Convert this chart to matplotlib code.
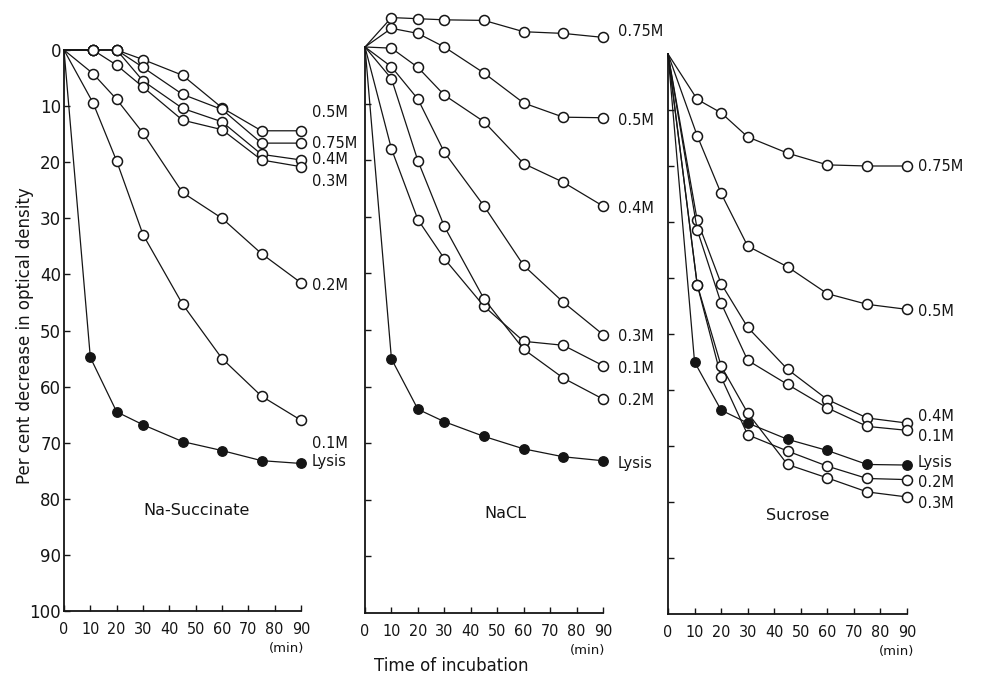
import matplotlib
matplotlib.use('Agg')
import matplotlib.pyplot as plt

# sampling times (min)
LYSIS_TIMES = [0, 10, 20, 30, 45, 60, 75, 90]
SUCC_TIMES = [0, 11, 20, 30, 45, 60, 75, 90]
NACL_TIMES = [0, 10, 20, 30, 45, 60, 75, 90]
SUCR_TIMES = [0, 11, 20, 30, 45, 60, 75, 90]

# per cent decrease in optical density
SUCC_NAMES = ['0.5M', '0.75M', '0.4M', '0.3M', '0.2M', '0.1M']
SUCC_05 = [0, 0, 0, 1.7, 4.5, 10.3, 14.4, 14.4]
SUCC_075 = [0, 0, 0, 3.1, 7.9, 10.6, 16.6, 16.6]
SUCC_04 = [0, 0, 0, 5.5, 10.4, 12.8, 18.6, 19.6]
SUCC_03 = [0, 0, 2.7, 6.6, 12.5, 14.2, 19.6, 20.8]
SUCC_02 = [0, 4.2, 8.8, 14.8, 25.4, 30.0, 36.3, 41.5]
SUCC_01 = [0, 9.4, 19.8, 32.9, 45.3, 55.0, 61.7, 66.0]
SUCC_LYSIS = [0, 54.8, 64.5, 66.8, 69.8, 71.4, 73.2, 73.7]

NACL_NAMES = ['0.75M', '0.5M', '0.4M', '0.3M', '0.1M', '0.2M']
NACL_075 = [0, -5.2, -5.0, -4.8, -4.7, -2.7, -2.4, -1.7]
NACL_05 = [0, -3.3, -2.4, 0, 4.6, 9.9, 12.4, 12.5]
NACL_04 = [0, 0.2, 3.6, 8.5, 13.2, 20.6, 23.9, 28.1]
NACL_03 = [0, 3.5, 9.2, 18.6, 28.1, 38.6, 45.1, 50.8]
NACL_01 = [0, 18.0, 30.5, 37.4, 45.8, 52.0, 52.7, 56.3]
NACL_02 = [0, 5.6, 20.1, 31.7, 44.5, 53.4, 58.5, 62.2]
NACL_LYSIS = [0, 55.1, 64.0, 66.2, 68.8, 71.0, 72.4, 73.1]

SUCR_NAMES = ['0.75M', '0.5M', '0.4M', '0.1M', '0.2M', '0.3M']
SUCR_075 = [0, 8.1, 10.5, 14.8, 17.7, 19.8, 20.0, 20.0]
SUCR_05 = [0, 14.6, 24.9, 34.3, 38.0, 42.8, 44.7, 45.6]
SUCR_04 = [0, 29.7, 41.0, 48.8, 56.3, 61.7, 65.0, 65.9]
SUCR_01 = [0, 31.4, 44.5, 54.7, 59.0, 63.2, 66.5, 67.2]
SUCR_02 = [0, 41.2, 57.7, 68.0, 70.9, 73.6, 75.8, 76.0]
SUCR_03 = [0, 41.2, 55.7, 64.1, 73.3, 75.7, 78.2, 79.1]
SUCR_LYSIS = [0, 55.0, 63.6, 65.9, 68.8, 70.8, 73.3, 73.4]

X_TICKS = [0, 10, 20, 30, 40, 50, 60, 70, 80, 90]
Y_TICKS = [0, 10, 20, 30, 40, 50, 60, 70, 80, 90, 100]

# layout, in pixels of the 981x675 figure
W, H = 981, 675
INK = '#151515'


def px_rect(x0, x90, y0, y100):
    return [x0 / W, 1 - y100 / H, (x90 - x0) / W, (y100 - y0) / H]


def draw_panel(ax, times, series, names, lysis, label_x, label_y,
               lysis_y, title, title_xy, min_x, show_y):
    # no marker on the common starting point
    for vals in series:
        ax.plot(times, vals, color=INK, lw=0.9, marker='o', ms=7.2,
                mfc='white', mec=INK, mew=1.1, markevery=slice(1, None),
                clip_on=False, zorder=3)
    ax.plot(LYSIS_TIMES, lysis, color=INK, lw=0.9, marker='o', ms=6.8,
            mfc=INK, mec=INK, markevery=slice(1, None), clip_on=False,
            zorder=3)

    for name, y in zip(names, label_y):
        ax.text(label_x, y, name, fontsize=10.5, va='center', ha='left',
                color=INK, clip_on=False)
    ax.text(label_x, lysis_y, 'Lysis', fontsize=10.5, va='center',
            ha='left', color=INK, clip_on=False)
    ax.text(title_xy[0], title_xy[1], title, fontsize=11.5, ha='center',
            va='center', color=INK)

    ax.set_xlim(0, 90)
    ax.set_ylim(100, 0)
    ax.set_xticks(X_TICKS)
    ax.set_xticklabels([str(t) for t in X_TICKS])
    ax.set_yticks(Y_TICKS if show_y else Y_TICKS[1:-1])
    if show_y:
        ax.set_yticklabels([str(t) for t in Y_TICKS])
    else:
        ax.set_yticklabels([])
    plt.setp(ax.get_xticklabels(), fontstretch='condensed')

    for side in ('top', 'right'):
        ax.spines[side].set_visible(False)
    for side in ('left', 'bottom'):
        ax.spines[side].set_linewidth(1.3)
        ax.spines[side].set_color(INK)
    ax.tick_params(axis='x', direction='in', length=4, width=1.0,
                   pad=8, labelsize=11.5, colors=INK)
    ax.tick_params(axis='y', direction='in', length=4.5, width=1.0,
                   pad=2, labelsize=12, colors=INK)
    ax.patch.set_alpha(0)

    ax.annotate('(min)', xy=(min_x, 0), xycoords=('data', 'axes fraction'),
                xytext=(0, -27), textcoords='offset points', ha='center',
                va='center', fontsize=9.5, color=INK)


fig = plt.figure(figsize=(9.81, 6.75), dpi=100)

ax1 = fig.add_axes(px_rect(64, 301, 50, 611))
draw_panel(ax1, SUCC_TIMES,
           [SUCC_05, SUCC_075, SUCC_04, SUCC_03, SUCC_02, SUCC_01],
           SUCC_NAMES, SUCC_LYSIS, 94,
           [11.2, 16.6, 19.6, 23.5, 41.9, 70.1], 73.4,
           'Na-Succinate', (50.5, 82), 84.6, True)

ax2 = fig.add_axes(px_rect(365, 603, 47, 613))
draw_panel(ax2, NACL_TIMES,
           [NACL_075, NACL_05, NACL_04, NACL_03, NACL_01, NACL_02],
           NACL_NAMES, NACL_LYSIS, 95.5,
           [-2.7, 12.9, 28.5, 51.2, 56.8, 62.4], 73.6,
           'NaCL', (53, 82.4), 84, False)

ax3 = fig.add_axes(px_rect(668, 907, 54, 614))
draw_panel(ax3, SUCR_TIMES,
           [SUCR_075, SUCR_05, SUCR_04, SUCR_01, SUCR_02, SUCR_03],
           SUCR_NAMES, SUCR_LYSIS, 94,
           [20.1, 46.0, 64.8, 68.3, 76.6, 80.2], 73.0,
           'Sucrose', (49, 82.5), 86, False)

fig.text(25 / W, 1 - 336 / H, 'Per cent decrease in optical density',
         rotation=90, ha='center', va='center', fontsize=12, color=INK)
fig.text(451 / W, 1 - 666 / H, 'Time of incubation', ha='center',
         va='center', fontsize=12, color=INK)

fig.savefig('out.png', dpi=100, facecolor='white')
